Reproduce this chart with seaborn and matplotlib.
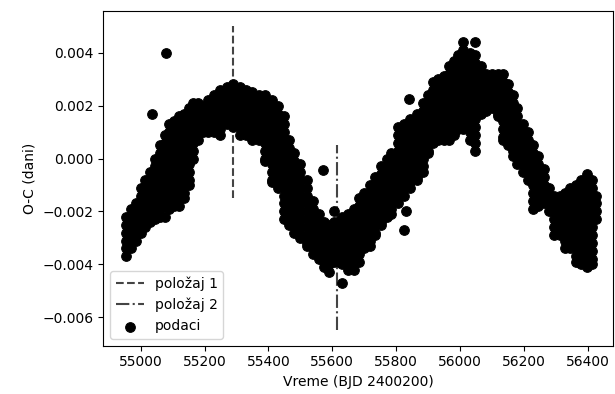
import matplotlib
matplotlib.use("Agg")
import matplotlib.pyplot as plt
import seaborn as sns
import pandas as pd

# Times of the observation columns (BJD - 2400200)
kolone_x = [
    54955, 54970, 54985, 55000, 55015, 55030, 55045, 55060, 55075, 55090,
    55105, 55120, 55135, 55150, 55165, 55180, 55195, 55210, 55230, 55250,
    55270, 55290, 55310, 55330, 55350, 55370, 55390, 55410, 55430, 55450,
    55465, 55480, 55500, 55520, 55540, 55560, 55575, 55590, 55605, 55620,
    55632, 55650, 55668, 55685, 55700, 55718, 55735, 55752, 55770, 55785,
    55805, 55825, 55845, 55865, 55885, 55900, 55915, 55932, 55950, 55965,
    55980, 55995, 56010, 56030, 56048, 56065, 56082, 56100, 56118, 56135,
    56150, 56165, 56180, 56197, 56214, 56230, 56245, 56262, 56278, 56295,
    56312, 56328, 56345, 56362, 56380, 56397, 56413, 56425,
]

# O-C values (days) read for each column
kolone_oc = [
    [-0.0022, -0.0025, -0.0028, -0.0031, -0.0034, -0.0037],
    [-0.0019, -0.0022, -0.0025, -0.0028, -0.0031, -0.0034],
    [-0.0017, -0.0020, -0.0023, -0.0026, -0.0029, -0.0031],
    [-0.0011, -0.0014, -0.0017, -0.0020, -0.0023, -0.0026, -0.0028],
    [-0.0008, -0.0011, -0.0014, -0.0017, -0.0020, -0.0023, -0.0026],
    [-0.0005, -0.0008, -0.0011, -0.0014, -0.0017, -0.0020, -0.0023, -0.0024],
    [0.0000, -0.0003, -0.0006, -0.0009, -0.0012, -0.0015, -0.0018, -0.0021, -0.0023],
    [0.0005, 0.0002, -0.0001, -0.0004, -0.0007, -0.0010, -0.0013, -0.0016, -0.0019, -0.0022],
    [0.0009, 0.0006, 0.0003, 0.0000, -0.0003, -0.0006, -0.0009, -0.0012, -0.0015, -0.0018, -0.0022],
    [0.0013, 0.0010, 0.0007, 0.0004, 0.0001, -0.0002, -0.0005, -0.0008, -0.0011, -0.0014, -0.0017, -0.0019],
    [0.0014, 0.0011, 0.0008, 0.0005, 0.0002, -0.0001, -0.0004, -0.0007, -0.0010, -0.0013, -0.0016, -0.0018],
    [0.0016, 0.0013, 0.0010, 0.0007, 0.0004, 0.0001, -0.0002, -0.0005, -0.0008, -0.0011, -0.0014, -0.0018],
    [0.0017, 0.0014, 0.0011, 0.0008, 0.0005, 0.0002, -0.0001, -0.0004, -0.0007, -0.0010, -0.0013, -0.0015],
    [0.0019, 0.0016, 0.0013, 0.0010, 0.0007, 0.0004, 0.0001, -0.0002, -0.0005, -0.0008, -0.0010],
    [0.0021, 0.0018, 0.0015, 0.0012, 0.0009, 0.0006, 0.0003, 0.0000],
    [0.0021, 0.0018, 0.0015, 0.0012, 0.0009, 0.0007],
    [0.0020, 0.0017, 0.0014, 0.0011, 0.0010],
    [0.0022, 0.0019, 0.0016, 0.0013, 0.0010],
    [0.0024, 0.0021, 0.0018, 0.0015, 0.0012, 0.0010],
    [0.0026, 0.0023, 0.0020, 0.0017, 0.0014, 0.0011, 0.0009],
    [0.0027, 0.0024, 0.0021, 0.0018, 0.0015, 0.0013],
    [0.0028, 0.0025, 0.0022, 0.0019, 0.0016, 0.0013, 0.0012],
    [0.0027, 0.0024, 0.0021, 0.0018, 0.0015, 0.0012, 0.0009],
    [0.0026, 0.0023, 0.0020, 0.0017, 0.0014, 0.0011, 0.0009],
    [0.0025, 0.0022, 0.0019, 0.0016, 0.0013, 0.0010, 0.0007],
    [0.0024, 0.0021, 0.0018, 0.0015, 0.0012, 0.0009, 0.0007],
    [0.0024, 0.0021, 0.0018, 0.0015, 0.0012, 0.0009, 0.0006, 0.0003, 0.0000, -0.0001],
    [0.0022, 0.0019, 0.0016, 0.0013, 0.0010, 0.0007, 0.0004, 0.0001, -0.0002, -0.0005, -0.0008, -0.0009],
    [0.0020, 0.0017, 0.0014, 0.0011, 0.0008, 0.0005, 0.0002, -0.0001, -0.0004, -0.0007, -0.0010, -0.0011],
    [0.0016, 0.0013, 0.0010, 0.0007, 0.0004, 0.0001, -0.0002, -0.0005, -0.0008, -0.0011, -0.0014, -0.0017, -0.0020, -0.0023],
    [0.0007, 0.0004, 0.0001, -0.0002, -0.0005, -0.0008, -0.0011, -0.0014, -0.0017, -0.0020, -0.0023, -0.0025],
    [0.0002, -0.0001, -0.0004, -0.0007, -0.0010, -0.0013, -0.0016, -0.0019, -0.0022, -0.0025, -0.0028],
    [-0.0002, -0.0005, -0.0008, -0.0011, -0.0014, -0.0017, -0.0020, -0.0023, -0.0026, -0.0029, -0.0030],
    [-0.0008, -0.0011, -0.0014, -0.0017, -0.0020, -0.0023, -0.0026, -0.0029, -0.0032, -0.0033],
    [-0.0016, -0.0019, -0.0022, -0.0025, -0.0028, -0.0031, -0.0034, -0.0036],
    [-0.0021, -0.0024, -0.0027, -0.0030, -0.0033, -0.0036, -0.0038],
    [-0.0024, -0.0027, -0.0030, -0.0033, -0.0036, -0.0039, -0.0041],
    [-0.0025, -0.0028, -0.0031, -0.0034, -0.0037, -0.0040, -0.0043],
    [-0.0020, -0.0024, -0.0027, -0.0030, -0.0033, -0.0036, -0.0039],
    [-0.0024, -0.0027, -0.0030, -0.0033, -0.0036, -0.0039],
    [-0.0022, -0.0025, -0.0028, -0.0031, -0.0034, -0.0037, -0.0040, -0.0047],
    [-0.0021, -0.0024, -0.0027, -0.0030, -0.0033, -0.0036, -0.0039, -0.0042],
    [-0.0019, -0.0022, -0.0025, -0.0028, -0.0031, -0.0034, -0.0037, -0.0040, -0.0042],
    [-0.0015, -0.0018, -0.0021, -0.0024, -0.0027, -0.0030, -0.0033, -0.0036, -0.0039],
    [-0.0013, -0.0016, -0.0019, -0.0022, -0.0025, -0.0028, -0.0031, -0.0034],
    [-0.0010, -0.0013, -0.0016, -0.0019, -0.0022, -0.0025, -0.0028, -0.0031, -0.0033],
    [-0.0007, -0.0010, -0.0013, -0.0016, -0.0019, -0.0022, -0.0025, -0.0028, -0.0029],
    [-0.0003, -0.0006, -0.0009, -0.0012, -0.0015, -0.0018, -0.0021, -0.0024, -0.0025],
    [0.0000, -0.0003, -0.0006, -0.0009, -0.0012, -0.0015, -0.0018, -0.0021, -0.0022],
    [0.0002, -0.0001, -0.0004, -0.0007, -0.0010, -0.0013, -0.0016, -0.0019, -0.0021],
    [0.0012, 0.0009, 0.0006, 0.0003, 0.0000, -0.0003, -0.0006, -0.0009, -0.0012, -0.0015, -0.0017],
    [0.0013, 0.0010, 0.0007, 0.0004, 0.0001, -0.0002, -0.0005, -0.0008, -0.0011, -0.0014],
    [0.0015, 0.0012, 0.0009, 0.0006, 0.0003, 0.0000, -0.0003, -0.0006, -0.0009, -0.0011],
    [0.0017, 0.0014, 0.0011, 0.0008, 0.0005, 0.0002, -0.0001, -0.0004, -0.0007, -0.0008],
    [0.0021, 0.0018, 0.0015, 0.0012, 0.0009, 0.0006, 0.0003, 0.0000, -0.0003, -0.0005],
    [0.0024, 0.0021, 0.0018, 0.0015, 0.0012, 0.0009, 0.0006, 0.0003, 0.0002],
    [0.0029, 0.0026, 0.0023, 0.0020, 0.0017, 0.0014, 0.0011, 0.0008, 0.0006],
    [0.0030, 0.0027, 0.0024, 0.0021, 0.0018, 0.0015, 0.0012, 0.0009, 0.0007],
    [0.0031, 0.0028, 0.0025, 0.0022, 0.0019, 0.0016, 0.0013, 0.0010, 0.0007],
    [0.0035, 0.0032, 0.0029, 0.0026, 0.0023, 0.0020, 0.0017, 0.0014, 0.0011, 0.0008, 0.0007],
    [0.0037, 0.0034, 0.0031, 0.0028, 0.0025, 0.0022, 0.0019, 0.0016, 0.0013, 0.0010, 0.0009],
    [0.0039, 0.0036, 0.0033, 0.0030, 0.0027, 0.0024, 0.0021, 0.0018, 0.0015, 0.0012, 0.0011],
    [0.0044, 0.0041, 0.0038, 0.0035, 0.0032, 0.0029, 0.0026, 0.0023, 0.0020, 0.0017, 0.0014, 0.0011],
    [0.0040, 0.0037, 0.0034, 0.0031, 0.0028, 0.0025, 0.0022, 0.0019, 0.0016, 0.0013, 0.0010, 0.0007],
    [0.0044, 0.0039, 0.0036, 0.0033, 0.0030, 0.0027, 0.0024, 0.0021, 0.0018, 0.0015, 0.0012, 0.0009, 0.0006, 0.0003],
    [0.0035, 0.0032, 0.0029, 0.0026, 0.0023, 0.0020, 0.0017],
    [0.0032, 0.0029, 0.0026, 0.0023, 0.0020, 0.0018],
    [0.0032, 0.0029, 0.0026, 0.0023, 0.0020, 0.0019],
    [0.0032, 0.0029, 0.0026, 0.0023, 0.0020, 0.0017, 0.0016],
    [0.0032, 0.0029, 0.0026, 0.0023, 0.0020, 0.0017, 0.0014, 0.0011, 0.0008, 0.0007],
    [0.0028, 0.0025, 0.0022, 0.0019, 0.0016, 0.0013, 0.0010, 0.0007, 0.0005],
    [0.0024, 0.0021, 0.0018, 0.0015, 0.0012, 0.0009, 0.0006, 0.0003, 0.0001],
    [0.0019, 0.0016, 0.0013, 0.0010, 0.0007, 0.0004, 0.0001, -0.0002],
    [0.0013, 0.0010, 0.0007, 0.0004, 0.0001, -0.0002, -0.0005],
    [0.0010, 0.0007, 0.0004, 0.0001, -0.0002, -0.0005, -0.0008],
    [0.0005, 0.0002, -0.0001, -0.0004, -0.0007, -0.0010, -0.0013, -0.0016, -0.0019],
    [0.0001, -0.0002, -0.0005, -0.0008, -0.0011, -0.0014, -0.0017, -0.0018],
    [-0.0004, -0.0007, -0.0010, -0.0013, -0.0016, -0.0017],
    [-0.0011, -0.0014, -0.0017, -0.0020],
    [-0.0014, -0.0017, -0.0020, -0.0023, -0.0026, -0.0029],
    [-0.0014, -0.0017, -0.0020, -0.0023, -0.0026, -0.0029],
    [-0.0013, -0.0016, -0.0019, -0.0022, -0.0025, -0.0028, -0.0031, -0.0034],
    [-0.0011, -0.0014, -0.0017, -0.0020, -0.0023, -0.0026, -0.0029, -0.0032, -0.0034],
    [-0.0010, -0.0013, -0.0016, -0.0019, -0.0022, -0.0025, -0.0028, -0.0031, -0.0034, -0.0037, -0.0039],
    [-0.0008, -0.0011, -0.0014, -0.0017, -0.0020, -0.0023, -0.0026, -0.0029, -0.0032, -0.0035, -0.0038, -0.0040],
    [-0.0006, -0.0009, -0.0012, -0.0015, -0.0018, -0.0021, -0.0024, -0.0027, -0.0030, -0.0033, -0.0036, -0.0039, -0.0041],
    [-0.0008, -0.0011, -0.0014, -0.0017, -0.0020, -0.0023, -0.0026, -0.0029, -0.0032, -0.0035, -0.0038, -0.0040],
    [-0.0014, -0.0017, -0.0020, -0.0023],
]

# Isolated points
izdvojeni_x = [55080, 55036, 55572, 55842, 55826, 55832]
izdvojeni_oc = [0.0040, 0.0017, -0.00045, 0.00225, -0.0027, -0.0020]

# Vertical marker lines
polozaji = [55290, 55615]
polozaj_od = [-0.0015, -0.0065]
polozaj_do = [0.0050, 0.0005]
polozaj_oznake = ["položaj 1", "položaj 2"]
polozaj_stil = ["--", "-."]

vreme = []
oc = []
for xv, ys in zip(kolone_x, kolone_oc):
    for yv in ys:
        vreme.append(xv)
        oc.append(yv)
vreme += izdvojeni_x
oc += izdvojeni_oc
df = pd.DataFrame({"vreme": vreme, "oc": oc})

plt.rcParams["font.family"] = ["DejaVu Sans"]
plt.rcParams["font.size"] = 10

fig = plt.figure(figsize=(6.15, 3.94), dpi=100)
ax = fig.add_axes([0.168, 0.1226, 0.828, 0.8495])

for xv, y0, y1, lab, ls in zip(polozaji, polozaj_od, polozaj_do, polozaj_oznake, polozaj_stil):
    ax.plot([xv, xv], [y0, y1], linestyle=ls, color="#444444", linewidth=1.5, label=lab)

sns.scatterplot(data=df, x="vreme", y="oc", color="black", s=48,
                edgecolor="black", linewidth=0.8,
                label="podaci", ax=ax, zorder=3)

ax.set_xlim(54883, 56478)
ax.set_ylim(-0.007075, 0.005575)
ax.set_xticks([55000, 55200, 55400, 55600, 55800, 56000, 56200, 56400])
ax.set_yticks([-0.006, -0.004, -0.002, 0.000, 0.002, 0.004])
ax.set_xlabel("Vreme (BJD 2400200)")
ax.set_ylabel("O-C (dani)")
ax.legend(loc="lower left")

fig.savefig("out.png", dpi=100)
